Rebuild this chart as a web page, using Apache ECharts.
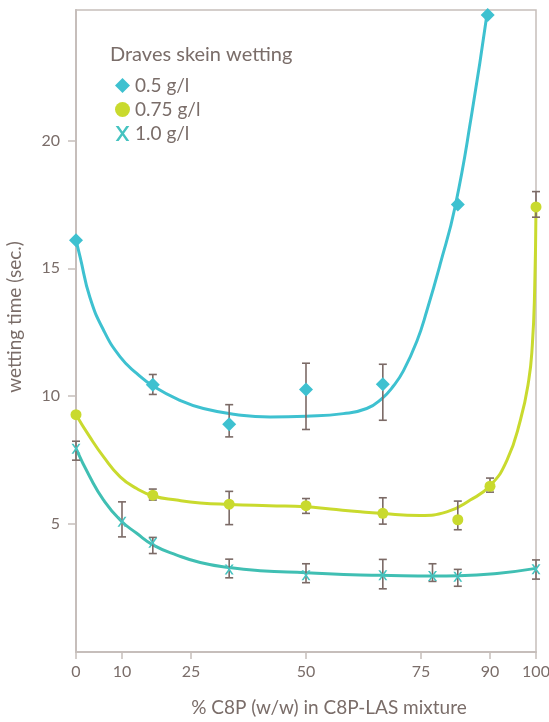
<!DOCTYPE html>
<html>
<head>
<meta charset="utf-8">
<script src="https://cdn.jsdelivr.net/npm/echarts@6/dist/echarts.min.js"></script>
<style>html,body{margin:0;padding:0;background:#fff}#c{width:549px;height:722px}</style>
</head>
<body>
<div id="c"></div>
<script>
// ---- data ----
const xTicks = [0, 10, 25, 50, 75, 90, 100];
const yTicks = [5, 10, 15, 20];

const seriesNames = ['0.5 g/l', '0.75 g/l', '1.0 g/l'];

// measured points [x, y]
const pts05  = [[0,16.1],[16.7,10.45],[33.3,8.9],[50,10.26],[66.7,10.47],[83,17.5],[89.5,24.9]];
const pts075 = [[0,9.28],[16.7,6.13],[33.3,5.78],[50,5.72],[66.7,5.42],[83,5.17],[90,6.48],[100,17.4]];
const pts10  = [[0,7.95],[10,5.09],[16.7,4.27],[33.3,3.23],[50,3.0],[66.7,3.0],[77.5,2.97],[83,2.94],[100,3.24]];

// error bars [x, low, high]
const err05  = [[16.7,10.07,10.85],[33.3,8.41,9.67],[50,8.7,11.29],[66.7,9.06,11.25]];
const err075 = [[16.7,5.94,6.37],[33.3,4.98,6.28],[50,5.42,6.0],[66.7,5.0,6.03],[83,4.78,5.9],[90,6.25,6.8],[100,17.0,18.0]];
const err10  = [[0,7.5,8.24],[10,4.5,5.87],[16.7,3.85,4.48],[33.3,2.9,3.63],[50,2.71,3.45],[66.7,2.47,3.62],[77.5,2.76,3.45],[83,2.57,3.23],[100,2.85,3.6]];

// fitted curves [x, y]
const fit05  = [[0,16.1],[0.9,15.44],[3,13.88],[6,12.58],[9.6,11.54],[13.2,10.89],[16.8,10.39],[22.6,9.84],[27.7,9.52],[35,9.28],[42.2,9.19],[50,9.22],[58.1,9.32],[63.2,9.52],[66.5,9.91],[69,10.4],[71.2,11.0],[74.1,12.15],[76.3,13.36],[79.2,15.18],[82.4,17.4],[86,21],[89.4,25]];
const fit075 = [[0,9.28],[3,8.41],[6,7.63],[9.6,6.85],[13.2,6.39],[16.8,6.1],[21.9,5.94],[27,5.83],[33.3,5.77],[42,5.72],[50,5.68],[55.3,5.59],[61.8,5.48],[66.1,5.42],[74.8,5.34],[80.6,5.48],[85.7,5.94],[90.1,6.52],[93.7,7.5],[96.6,9.06],[98.4,10.6],[99.2,12.0],[99.7,14.1],[100,17.4]];
const fit10  = [[0,7.95],[3,6.85],[6,5.94],[9.6,5.16],[13.2,4.64],[16.8,4.18],[21.9,3.79],[27,3.5],[33.3,3.3],[40,3.18],[50,3.1],[61.8,3.01],[66.1,3.0],[77.8,2.97],[83.2,2.98],[91.5,3.07],[100,3.27]];

// ---- styling ----
const C05 = '#3ec1d0', C075 = '#c9da2e', C10 = '#40bfb3', CX = '#45c3c0';
const TXT = '#7a6d69', AX = '#c6bebb', ERR = '#7b6a66';
const FONT = 'Lato';
const xShape = 'path://M0,0 L2.2,0 L5,4.1 L7.8,0 L10,0 L6.1,5.5 L10,11 L7.8,11 L5,6.9 L2.2,11 L0,11 L3.9,5.5 Z';

function errItem(params, api) {
  const x = api.value(0), lo = api.value(1), hi = api.value(2);
  const a = api.coord([x, lo]), b = api.coord([x, hi]);
  const w = 4;
  const st = { stroke: ERR, lineWidth: 1.6 };
  return { type: 'group', children: [
    { type: 'line', shape: { x1: a[0], y1: a[1], x2: b[0], y2: b[1] }, style: st },
    { type: 'line', shape: { x1: a[0]-w, y1: a[1], x2: a[0]+w, y2: a[1] }, style: st },
    { type: 'line', shape: { x1: b[0]-w, y1: b[1], x2: b[0]+w, y2: b[1] }, style: st }
  ]};
}
function curve(name, data, color) {
  return { name: name, type: 'line', data: data, smooth: 0.5, showSymbol: false, symbol: 'none',
    lineStyle: { color: color, width: 3 }, z: 2, silent: true, clip: true };
}
function errs(name, data) {
  return { name: name, type: 'custom', data: data, renderItem: errItem, encode: { x: 0, y: [1, 2] }, z: 3, silent: true };
}

const chart = echarts.init(document.getElementById('c'), null, { renderer: 'canvas' });
chart.setOption({
  animation: false,
  backgroundColor: '#fff',
  textStyle: { fontFamily: FONT, color: TXT },
  title: { text: 'Draves skein wetting', left: 105, top: 40,
    textStyle: { fontFamily: FONT, fontSize: 20, fontWeight: 'normal', color: TXT } },
  legend: {
    orient: 'vertical', left: 110, top: 71, itemWidth: 15, itemHeight: 15, itemGap: 5,
    textStyle: { fontFamily: FONT, fontSize: 19, color: TXT },
    data: [
      { name: seriesNames[0], icon: 'diamond' },
      { name: seriesNames[1], icon: 'circle' },
      { name: seriesNames[2], icon: xShape }
    ]
  },
  grid: { left: 76, right: 13, top: 10, bottom: 70, outerBoundsMode: 'none', containLabel: false,
    show: true, borderColor: AX, borderWidth: 1.5 },
  xAxis: {
    type: 'value', min: 0, max: 100, interval: 5,
    name: '% C8P (w/w) in C8P-LAS mixture', nameLocation: 'middle', nameGap: 46,
    nameTextStyle: { fontFamily: FONT, fontSize: 19, color: TXT, padding: [0, 0, 0, 46] },
    axisLine: { lineStyle: { color: AX, width: 2 } },
    axisTick: { customValues: xTicks, length: 7, lineStyle: { color: AX, width: 1.5 } },
    axisLabel: { customValues: xTicks, margin: 12, fontFamily: FONT, fontSize: 16, color: TXT },
    splitLine: { show: false }
  },
  yAxis: {
    type: 'value', min: 0, max: 25.1, interval: 5,
    name: 'wetting time (sec.)', nameLocation: 'middle', nameGap: 52,
    nameTextStyle: { fontFamily: FONT, fontSize: 19, color: TXT, padding: [0, 0, 0, 28] },
    axisLine: { show: true, lineStyle: { color: AX, width: 2 } },
    axisTick: { show: true, customValues: yTicks, length: 8, lineStyle: { color: AX, width: 1.5 } },
    axisLabel: { customValues: yTicks, margin: 16, fontFamily: FONT, fontSize: 16, color: TXT },
    splitLine: { show: false }
  },
  series: [
    curve('fit05', fit05, C05),
    curve('fit075', fit075, C075),
    curve('fit10', fit10, C10),
    errs('err05', err05),
    errs('err075', err075),
    errs('err10', err10),
    { name: seriesNames[0], type: 'scatter', data: pts05, symbol: 'diamond', symbolSize: 14,
      itemStyle: { color: C05, opacity: 1 }, z: 5 },
    { name: seriesNames[1], type: 'scatter', data: pts075, symbol: 'circle', symbolSize: 11,
      itemStyle: { color: C075, opacity: 1 }, z: 5 },
    { name: seriesNames[2], type: 'scatter', data: pts10, symbol: xShape, symbolSize: [9, 10],
      itemStyle: { color: CX, opacity: 1 }, z: 5 }
  ]
});
</script>
</body>
</html>
